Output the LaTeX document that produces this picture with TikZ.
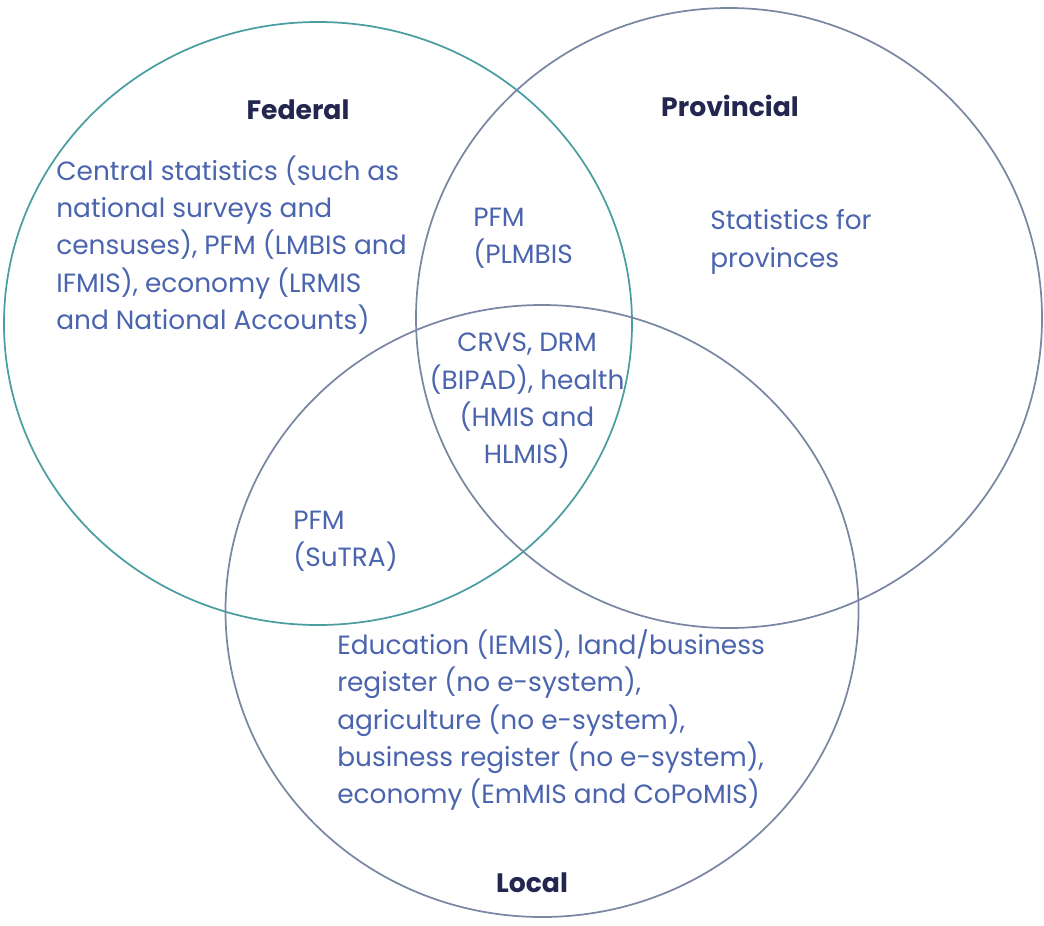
\documentclass[tikz,border=0pt]{standalone}
\usepackage{fontspec}
\setmainfont{Poppins}
\definecolor{fedteal}{HTML}{4A9DA0}
\definecolor{ringgray}{HTML}{7A87A3}
\definecolor{bodyblue}{HTML}{4A64AE}
\definecolor{headnavy}{HTML}{23264F}
\tikzset{
  ring/.style={ringgray, line width=1.3pt},
  txt/.style={text=bodyblue, font=\fontsize{19.8}{28}\selectfont, inner sep=0pt, align=left},
  head/.style={text=headnavy, font=\fontsize{20}{22}\selectfont\bfseries, inner sep=0pt}
}
\begin{document}
\begin{tikzpicture}[x=0.75pt,y=-0.75pt]
\useasboundingbox (0,0) rectangle (1044,925);
% the three levels
\draw[ring, fedteal] (318,323.5) ellipse [x radius=314, y radius=301.5];
\draw[ring] (729,318) ellipse [x radius=313, y radius=310];
\draw[ring] (542,611) ellipse [x radius=316.5, y radius=306];
\node[head] (federal) at (298,110) {Federal};
\node[head] (provincial) at (730,106) {Provincial};
\node[head] (local) at (532,883) {Local};
\node[txt, anchor=west] (fedonly) at (56,245) {Central statistics (such as\\national surveys and\\censuses), PFM (LMBIS and\\IFMIS), economy (LRMIS\\and National Accounts)};
\node[txt, anchor=west] (fedprov) at (473,238) {PFM\\(PLMBIS};
\node[txt, anchor=west] (provonly) at (710,242) {Statistics for\\provinces};
\node[txt, align=center] (allthree) at (527,401) {CRVS, DRM\\(BIPAD), health\\(HMIS and\\HLMIS)};
\node[txt, anchor=west] (fedlocal) at (293,541) {PFM\\(SuTRA)};
\node[txt, anchor=west] (localonly) at (337,720) {Education (IEMIS), land/business\\register (no e-system),\\agriculture (no e-system),\\business register (no e-system),\\economy (EmMIS and CoPoMIS)};
\end{tikzpicture}
\end{document}
